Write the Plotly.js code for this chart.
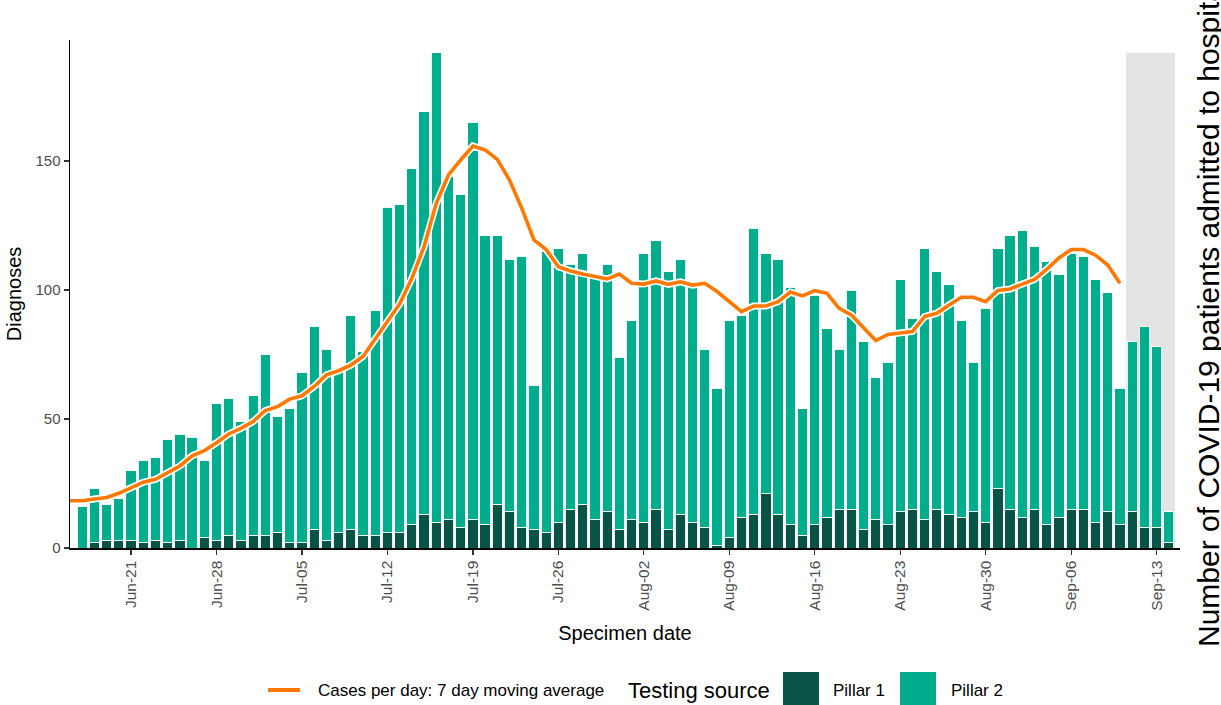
<!DOCTYPE html>
<html>
<head>
<meta charset="utf-8">
<script src="https://cdn.plot.ly/plotly-3.0.1.min.js"></script>
<style>
  html, body { margin: 0; padding: 0; background: #ffffff; }
  #chart { width: 1221px; height: 705px; }
</style>
</head>
<body>
<div id="chart"></div>
<script>
// ---- Data ----
const dates = [
  '2020-06-17','2020-06-18','2020-06-19','2020-06-20','2020-06-21','2020-06-22','2020-06-23','2020-06-24','2020-06-25','2020-06-26',
  '2020-06-27','2020-06-28','2020-06-29','2020-06-30','2020-07-01','2020-07-02','2020-07-03','2020-07-04','2020-07-05','2020-07-06',
  '2020-07-07','2020-07-08','2020-07-09','2020-07-10','2020-07-11','2020-07-12','2020-07-13','2020-07-14','2020-07-15','2020-07-16',
  '2020-07-17','2020-07-18','2020-07-19','2020-07-20','2020-07-21','2020-07-22','2020-07-23','2020-07-24','2020-07-25','2020-07-26',
  '2020-07-27','2020-07-28','2020-07-29','2020-07-30','2020-07-31','2020-08-01','2020-08-02','2020-08-03','2020-08-04','2020-08-05',
  '2020-08-06','2020-08-07','2020-08-08','2020-08-09','2020-08-10','2020-08-11','2020-08-12','2020-08-13','2020-08-14','2020-08-15',
  '2020-08-16','2020-08-17','2020-08-18','2020-08-19','2020-08-20','2020-08-21','2020-08-22','2020-08-23','2020-08-24','2020-08-25',
  '2020-08-26','2020-08-27','2020-08-28','2020-08-29','2020-08-30','2020-08-31','2020-09-01','2020-09-02','2020-09-03','2020-09-04',
  '2020-09-05','2020-09-06','2020-09-07','2020-09-08','2020-09-09','2020-09-10','2020-09-11','2020-09-12','2020-09-13','2020-09-14'
];

const pillar1 = [
  0, 2, 3, 3, 3, 2, 3, 2, 3, 0,
  4, 3, 5, 3, 5, 5, 6, 2, 2, 7,
  3, 6, 7, 5, 5, 6, 6, 9, 13, 10,
  11, 8, 11, 9, 17, 14, 8, 7, 6, 10,
  15, 17, 11, 14, 7, 11, 10, 15, 7, 13,
  10, 8, 1, 4, 12, 13, 21, 13, 9, 5,
  9, 12, 15, 15, 7, 11, 9, 14, 15, 11,
  15, 13, 12, 14, 10, 23, 15, 12, 15, 9,
  12, 15, 15, 10, 14, 9, 14, 8, 8, 2
];

const pillar2 = [
  16, 21, 14, 16, 27, 32, 32, 40, 41, 43,
  30, 53, 53, 46, 54, 70, 45, 52, 66, 79,
  74, 63, 83, 71, 87, 126, 127, 138, 156, 182,
  133, 129, 154, 112, 104, 98, 105, 56, 109, 106,
  95, 97, 94, 96, 67, 77, 104, 104, 100, 99,
  92, 69, 61, 84, 78, 111, 93, 99, 92, 49,
  89, 73, 62, 85, 73, 55, 63, 90, 74, 105,
  92, 89, 76, 58, 83, 93, 106, 111, 102, 102,
  94, 99, 98, 94, 85, 53, 66, 78, 70, 12
];

const maDates = ['2020-06-16'].concat(dates.slice(0, 86));
const movingAvg = [
  18.3, 18.3, 19.0, 19.6, 21.2, 23.5, 25.5, 26.6, 29.2, 31.8,
  35.7, 37.7, 40.8, 44.2, 46.4, 49.0, 53.3, 54.8, 57.7, 59.0,
  62.6, 67.1, 68.7, 70.9, 74.2, 81.0, 88.4, 94.6, 104.5, 116.8,
  133.6, 144.6, 150.4, 155.8, 154.3, 150.6, 142.6, 131.7, 119.4, 115.7,
  109.0, 107.4, 106.2, 105.2, 104.3, 106.2, 102.6, 102.3, 103.5, 102.2,
  103.2, 101.9, 102.6, 99.4, 95.5, 91.6, 93.8, 93.8, 95.5, 99.2,
  97.7, 99.8, 98.7, 92.9, 90.3, 85.1, 80.4, 82.8, 83.5, 83.9,
  89.7, 91.0, 94.2, 97.2, 97.2, 95.5, 99.8, 100.4, 102.3, 104.1,
  108.0, 112.4, 115.7, 115.7, 113.5, 109.7, 102.6
];

const tickDates = ['2020-06-21','2020-06-28','2020-07-05','2020-07-12','2020-07-19','2020-07-26','2020-08-02',
                   '2020-08-09','2020-08-16','2020-08-23','2020-08-30','2020-09-06','2020-09-13'];
const tickLabels = ['Jun-21','Jun-28','Jul-05','Jul-12','Jul-19','Jul-26','Aug-02',
                    'Aug-09','Aug-16','Aug-23','Aug-30','Sep-06','Sep-13'];

const incompleteStart = '2020-09-10 12:00';
const incompleteEnd = '2020-09-14 12:00';
const incompleteTop = 192;

// ---- Styling ----
const COL_P1 = '#075446';
const COL_P2 = '#00ae8d';
const COL_MA = '#ff7800';
const FONT = 'Liberation Sans, Arial, sans-serif';

const W = 1221, H = 705;
const L = 70, R = 1180, T = 40, B = 548;
const px2x = p => (p - L) / (R - L);
const py2y = p => (B - p) / (B - T);

const traces = [
  { type: 'bar', x: dates, y: pillar1, name: 'Pillar 1',
    marker: { color: COL_P1, line: { color: '#ffffff', width: 0.9 } }, showlegend: false },
  { type: 'bar', x: dates, y: pillar2, name: 'Pillar 2',
    marker: { color: COL_P2, line: { color: '#ffffff', width: 0.9 } }, showlegend: false },
  { type: 'scatter', mode: 'lines', x: maDates, y: movingAvg, hoverinfo: 'skip',
    line: { color: '#ffffff', width: 7 }, showlegend: false },
  { type: 'scatter', mode: 'lines', x: maDates, y: movingAvg, name: 'Cases per day: 7 day moving average',
    line: { color: COL_MA, width: 3.6 }, showlegend: false }
];

const layout = {
  width: W, height: H,
  margin: { l: L, r: W - R, t: T, b: H - B },
  paper_bgcolor: '#ffffff', plot_bgcolor: '#ffffff',
  font: { family: FONT, color: '#000000' },
  barmode: 'stack', bargap: 0.16,
  showlegend: false,
  xaxis: {
    type: 'date',
    range: ['2020-06-16 00:00', '2020-09-14 22:00'],
    tickvals: tickDates, ticktext: tickLabels, tickangle: -90,
    tickfont: { size: 15.5, color: '#4d4d4d', family: FONT },
    ticks: 'outside', ticklen: 5, tickwidth: 1.2, tickcolor: '#333333',
    showline: true, linecolor: '#000000', linewidth: 1.5,
    showgrid: false, zeroline: false,
    title: { text: 'Specimen date', font: { size: 20, color: '#000000', family: FONT }, standoff: 16 }
  },
  yaxis: {
    range: [0, 196.9],
    tickvals: [0, 50, 100, 150],
    tickfont: { size: 15, color: '#4d4d4d', family: FONT },
    ticks: 'outside', ticklen: 5, tickwidth: 1.2, tickcolor: '#333333',
    showline: true, linecolor: '#000000', linewidth: 1.5,
    showgrid: false, zeroline: false,
    title: { text: 'Diagnoses', font: { size: 20, color: '#000000', family: FONT }, standoff: 8 }
  },
  shapes: [
    { type: 'rect', xref: 'x', yref: 'y', layer: 'below',
      x0: incompleteStart, x1: incompleteEnd, y0: 0, y1: incompleteTop,
      fillcolor: '#e4e4e4', line: { width: 0 } },
    // legend keys
    { type: 'line', xref: 'paper', yref: 'paper',
      x0: px2x(268), x1: px2x(300), y0: py2y(690), y1: py2y(690),
      line: { color: COL_MA, width: 4 } },
    { type: 'rect', xref: 'paper', yref: 'paper',
      x0: px2x(783), x1: px2x(819), y0: py2y(672), y1: py2y(706),
      fillcolor: COL_P1, line: { width: 0 } },
    { type: 'rect', xref: 'paper', yref: 'paper',
      x0: px2x(900), x1: px2x(936), y0: py2y(672), y1: py2y(706),
      fillcolor: COL_P2, line: { width: 0 } }
  ],
  annotations: [
    { xref: 'paper', yref: 'paper', x: px2x(316), y: py2y(690), xanchor: 'left', yanchor: 'middle',
      text: 'Cases per day: 7 day moving average', showarrow: false,
      font: { size: 17, color: '#000000', family: FONT } },
    { xref: 'paper', yref: 'paper', x: px2x(626), y: py2y(690), xanchor: 'left', yanchor: 'middle',
      text: 'Testing source', showarrow: false,
      font: { size: 22, color: '#000000', family: FONT } },
    { xref: 'paper', yref: 'paper', x: px2x(831), y: py2y(690), xanchor: 'left', yanchor: 'middle',
      text: 'Pillar 1', showarrow: false,
      font: { size: 17, color: '#000000', family: FONT } },
    { xref: 'paper', yref: 'paper', x: px2x(949), y: py2y(690), xanchor: 'left', yanchor: 'middle',
      text: 'Pillar 2', showarrow: false,
      font: { size: 17, color: '#000000', family: FONT } },
    { xref: 'paper', yref: 'paper', x: px2x(1209), y: py2y(313), xanchor: 'center', yanchor: 'middle',
      textangle: -90, text: 'Number of COVID-19 patients admitted to hospital', showarrow: false,
      font: { size: 30, color: '#000000', family: FONT } }
  ]
};

Plotly.newPlot('chart', traces, layout, { staticPlot: true, displayModeBar: false });
</script>
</body>
</html>
